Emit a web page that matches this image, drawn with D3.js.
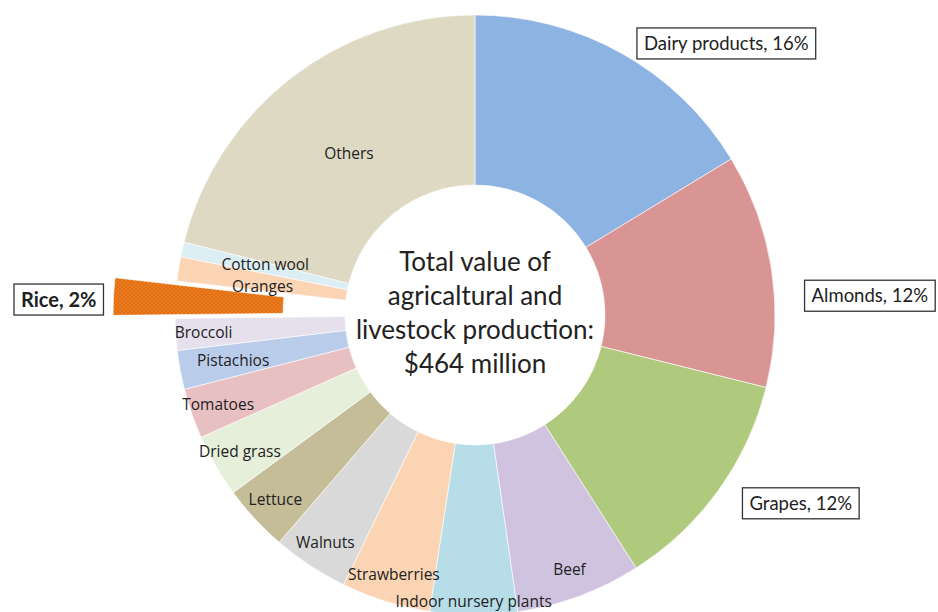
<!DOCTYPE html>
<html>
<head>
<meta charset="utf-8">
<script src="https://cdn.jsdelivr.net/npm/d3@7"></script>
<style>
  body { margin: 0; background: #fff; }
  svg { display: block; font-family: Lato, "Open Sans", sans-serif; }
</style>
</head>
<body>
<svg id="chart" width="938" height="612"></svg>
<script>
// slices clockwise from 12 o'clock, share of total (%)
const categories = [
    "Dairy products", "Almonds", "Grapes", "Beef", "Indoor nursery plants",
    "Strawberries", "Walnuts", "Lettuce", "Dried grass", "Tomatoes",
    "Pistachios", "Broccoli", "Rice", "Oranges", "Cotton wool", "Others"
]
const shares = [
    16.3, 12.6, 12.1, 6.75, 4.7,
    4.8, 4.1, 3.6, 3.4, 2.7,
    2.1, 1.7, 2.0, 1.3, 0.8, 21.1
]
const calloutText = {
    "Dairy products": "Dairy products, 16%",
    "Almonds": "Almonds, 12%",
    "Grapes": "Grapes, 12%",
    "Rice": "Rice, 2%"
}
const centerLines = ["Total value of", "agricaltural and", "livestock production:", "$464 million"]

const colors = {
    "Dairy products": "#8db3e2", "Almonds": "#d99594", "Grapes": "#afca7d",
    "Beef": "#cfc3df", "Indoor nursery plants": "#b7dde8", "Strawberries": "#fbd4b4",
    "Walnuts": "#d9d9d9", "Lettuce": "#c4bd97", "Dried grass": "#e6efd9",
    "Tomatoes": "#e8c0c2", "Pistachios": "#b9cdea", "Broccoli": "#e5e0ec",
    "Rice": "url(#ricedots)", "Oranges": "#fbd4b4", "Cotton wool": "#dbeef3",
    "Others": "#ddd9c3"
}

const cx = 475, cy = 315, R = 300, r0 = 130
const explode = { "Rice": 62 }
// labels drawn in the middle of the ring, the rest pushed outwards
const midLabels = new Set(["Others", "Cotton wool", "Oranges"])
const labelR = { "Indoor nursery plants": 287, "Pistachios": 246, "Others": 205 }
// callout box offsets from the outer mid point of the slice
const calloutPos = {
    "Dairy products": [15, -10, "start"],
    "Almonds": [33, 26, "start"],
    "Grapes": [24, 13, "start"],
    "Rice": [-10, 3, "end"]
}

const svg = d3.select("#chart")

const defs = svg.append("defs")
const pat = defs.append("pattern")
    .attr("id", "ricedots")
    .attr("patternUnits", "userSpaceOnUse")
    .attr("width", 4).attr("height", 4)
pat.append("rect").attr("width", 4).attr("height", 4).attr("fill", "#e36c0a")
pat.append("circle").attr("cx", 1).attr("cy", 1).attr("r", 0.7).attr("fill", "#f6a25e")
pat.append("circle").attr("cx", 3).attr("cy", 3).attr("r", 0.7).attr("fill", "#f6a25e")

const data = categories.map((c, i) => ({ name: c, value: shares[i] }))

const pie = d3.pie()
    .value(d => d.value)
    .sort(null)
    .startAngle(0)
    .endAngle(2 * Math.PI)

const arc = d3.arc().innerRadius(r0).outerRadius(R)

const arcs = pie(data)

const polar = (a, rad) => [Math.sin(a) * rad, -Math.cos(a) * rad]

const g = svg.append("g").attr("transform", `translate(${cx},${cy})`)

g.selectAll("path.slice")
    .data(arcs)
    .enter()
    .append("path")
    .attr("class", "slice")
    .attr("d", arc)
    .attr("fill", d => colors[d.data.name])
    .attr("stroke", "#fff")
    .attr("stroke-width", 0.6)
    .attr("transform", d => {
        const off = explode[d.data.name]
        if (!off) return null
        const [x, y] = polar((d.startAngle + d.endAngle) / 2, off)
        return `translate(${x},${y})`
    })

// slice names
g.selectAll("text.slabel")
    .data(arcs.filter(d => !calloutText[d.data.name]))
    .enter()
    .append("text")
    .attr("class", "slabel")
    .attr("text-anchor", "middle")
    .attr("dy", "0.35em")
    .attr("font-family", "'Open Sans', sans-serif")
    .attr("font-size", 15.5)
    .attr("fill", "#222")
    .attr("transform", d => {
        const mid = (d.startAngle + d.endAngle) / 2
        let rad = midLabels.has(d.data.name) ? (R + r0) / 2 : 272
        if (labelR[d.data.name]) rad = labelR[d.data.name]
        let [x, y] = polar(mid, rad)
        // the two thin slices share one spot, keep them stacked
        if (d.data.name === "Cotton wool") y -= 3
        if (d.data.name === "Oranges") y += 5
        return `translate(${x},${y})`
    })
    .text(d => d.data.name)

// boxed callouts
arcs.filter(d => calloutText[d.data.name]).forEach(d => {
    const name = d.data.name
    const mid = (d.startAngle + d.endAngle) / 2
    const [px, py] = polar(mid, R + (explode[name] || 0))
    const [dx, dy, anchor] = calloutPos[name]
    const bold = name === "Rice"
    const cg = g.append("g")
    const t = cg.append("text")
        .attr("x", px + dx + (anchor === "start" ? 7 : -7))
        .attr("y", py + dy)
        .attr("dy", "0.35em")
        .attr("text-anchor", anchor)
        .attr("font-size", bold ? 20 : 18.5)
        .attr("font-weight", bold ? "bold" : "normal")
        .attr("fill", "#222")
        .text(calloutText[name])
    const bb = t.node().getBBox()
    cg.insert("rect", "text")
        .attr("x", bb.x - 7)
        .attr("y", py + dy - 15.5)
        .attr("width", bb.width + 14)
        .attr("height", 31)
        .attr("fill", "#fff")
        .attr("stroke", "#333")
        .attr("stroke-width", 1.3)
})

// centre title
g.selectAll("text.center")
    .data(centerLines)
    .enter()
    .append("text")
    .attr("class", "center")
    .attr("text-anchor", "middle")
    .attr("x", 0)
    .attr("y", (d, i) => -44 + i * 34)
    .attr("font-size", 26)
    .attr("fill", "#222")
    .text(d => d)
</script>
</body>
</html>
